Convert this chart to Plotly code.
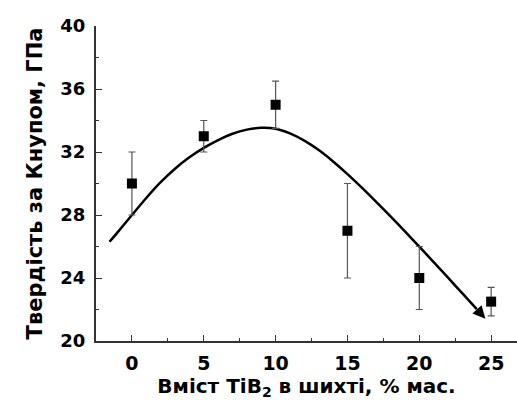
import plotly.graph_objects as go

# measured data
tib2 = [0, 5, 10, 15, 20, 25]
hardness = [30.0, 33.0, 35.0, 27.0, 24.0, 22.5]
err_plus = [2.0, 1.0, 1.5, 3.0, 2.0, 0.9]
err_minus = [2.0, 1.0, 1.5, 3.0, 2.0, 0.9]

# fitted trend curve
fit_x = [-1.56, -1, 0, 1, 2, 3, 4, 5, 6, 7, 8, 9, 10, 11, 12, 13, 14, 15, 16, 17,
         18, 19, 20, 21, 22, 23, 24, 24.6]
fit_y = [26.3, 26.9, 28.0, 29.08, 30.08, 30.94, 31.66, 32.26, 32.76, 33.16, 33.42, 33.54,
         33.48, 33.18, 32.72, 32.12, 31.4, 30.6, 29.74, 28.84, 27.91, 26.96, 25.99, 25.01,
         24.02, 23.02, 22.02, 21.42]

y_ticks = [20, 24, 28, 32, 36, 40]
x_ticks = [0, 5, 10, 15, 20, 25]

FONT = "DejaVu Sans, Arial, sans-serif"
AX = "#333333"

fig = go.Figure()
fig.add_trace(go.Scatter(
    x=fit_x[:-1], y=fit_y[:-1], mode="lines",
    line=dict(color="black", width=2.5, shape="spline", smoothing=0.8),
    hoverinfo="skip", showlegend=False))
fig.add_trace(go.Scatter(
    x=tib2, y=hardness, mode="markers",
    marker=dict(symbol="square", size=10, color="black"),
    error_y=dict(type="data", array=err_plus, arrayminus=err_minus,
                 color="#555555", thickness=1.2, width=3.5),
    showlegend=False))

# arrow head at end of curve
fig.add_annotation(
    x=fit_x[-1], y=fit_y[-1], ax=fit_x[-2], ay=fit_y[-2],
    xref="x", yref="y", axref="x", ayref="y",
    showarrow=True, arrowhead=2, arrowsize=1.0, arrowwidth=2.5,
    arrowcolor="black", text="")

fig.update_layout(
    width=517, height=400,
    margin=dict(l=96, r=0, t=26, b=59),
    plot_bgcolor="white", paper_bgcolor="white",
    font=dict(family=FONT, color="black"),
    xaxis=dict(
        range=[-2.5, 26.8], tickvals=x_ticks, ticks="inside", ticklen=6,
        tickwidth=1.3, tickcolor=AX,
        minor=dict(ticks="inside", ticklen=3, dtick=2.5, tick0=0,
                   tickcolor=AX, tickwidth=1.3),
        showline=True, linecolor=AX, linewidth=2, showgrid=False, zeroline=False,
        tickfont=dict(size=19, family=FONT, weight="bold", color="black"),
        ticklabelstandoff=4,
        title=dict(text="<b>Вміст TiB<sub>2</sub> в шихті, % мас.</b>",
                   font=dict(size=20, family=FONT, weight="bold", color="black"),
                   standoff=3),
    ),
    yaxis=dict(
        range=[20, 40], tickvals=y_ticks, ticks="inside", ticklen=6,
        tickwidth=1.3, tickcolor=AX,
        minor=dict(ticks="inside", ticklen=3, dtick=2, tick0=20,
                   tickcolor=AX, tickwidth=1.3),
        showline=True, linecolor=AX, linewidth=2, showgrid=False, zeroline=False,
        tickfont=dict(size=18, family=FONT, weight="bold", color="black"),
        ticklabelstandoff=5,
        title=dict(text="<b>Твердість за Кнупом, ГПа</b>",
                   font=dict(size=21, family=FONT, weight="bold", color="black"),
                   standoff=12),
    ),
)

fig.write_html("out.html")
